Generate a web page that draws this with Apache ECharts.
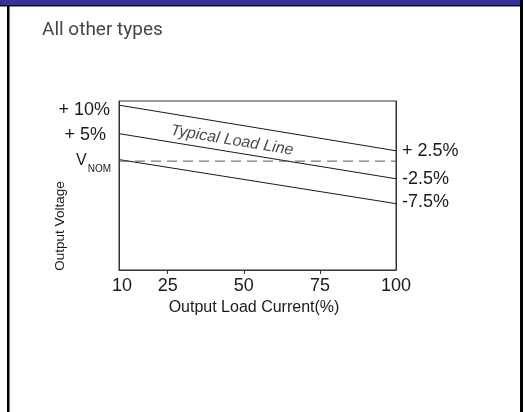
<!DOCTYPE html>
<html>
<head>
<meta charset="utf-8">
<script src="https://cdn.jsdelivr.net/npm/echarts@6/dist/echarts.min.js"></script>
<style>html,body{margin:0;padding:0;background:#fff;}#c{width:525px;height:412px;}</style>
</head>
<body>
<div id="c"></div>
<script>
// ---- data ----
const loadX = [9, 100];                 // output load current (%) at the line ends
const upperLine = [10.8, 2.0];          // line from +10% to +2.5%
const middleLine = [5.3, -3.4];         // line from +5% to -2.5%
const lowerLine = [0.3, -8.2];          // line from Vnom to -7.5%
const nominalLine = [0, 0];             // dashed Vnom reference
const xTickValues = [10, 25, 50, 75, 100];
const xTickMarks = [25, 50, 75];
const leftTickValues = [9.9, 5.0, -0.4];
const leftTickLabels = ['+ 10%', '+ 5%', 'VNOM'];
const rightTickValues = [1.95, -3.45, -7.9];
const rightTickLabels = ['+ 2.5%', '-2.5%', '-7.5%'];
const annotationPoint = [46.1, 4.0];
const annotationText = 'Typical Load Line';
const titleText = 'All other types';
const xName = 'Output Load Current(%)';
const yName = 'Output Voltage';

const FONT = "'Liberation Sans', Arial, sans-serif";
const chart = echarts.init(document.getElementById('c'), null, {renderer: 'canvas'});

function pairs(xs, ys) { return xs.map((x, i) => [x, ys[i]]); }

const lineStyleSolid = {color: '#1a1a1a', width: 1};

const option = {
  animation: false,
  backgroundColor: '#fff',
  title: {
    text: titleText, left: 42, top: 21, padding: 0,
    textStyle: {fontFamily: 'Roboto, sans-serif', fontSize: 19, fontWeight: 'normal', color: '#444'}
  },
  grid: {left: 119, top: 101, width: 277, height: 169, show: true, borderColor: '#333', borderWidth: 1, backgroundColor: 'transparent'},
  xAxis: {
    type: 'value', min: 9, max: 100,
    axisLine: {show: true, onZero: false, lineStyle: {color: '#333', width: 1}},
    splitLine: {show: false},
    axisTick: {show: true, inside: false, length: 4, lineStyle: {color: '#333'}, customValues: xTickMarks},
    axisLabel: {customValues: xTickValues, margin: 7, fontFamily: FONT, fontSize: 18, color: '#1a1a1a'},
    name: xName, nameLocation: 'middle', nameGap: 30,
    nameTextStyle: {fontFamily: FONT, fontSize: 16, color: '#1a1a1a', padding: [0, 7, 0, 0]}
  },
  yAxis: [{
    type: 'value', min: -21, max: 11.6, position: 'left',
    axisLine: {show: true, onZero: false, lineStyle: {color: '#333'}},
    axisTick: {show: false}, splitLine: {show: false},
    axisLabel: {
      customValues: leftTickValues, margin: 8, fontFamily: FONT, fontSize: 18, color: '#1a1a1a',
      formatter: function (v) {
        const i = leftTickValues.indexOf(v);
        const t = leftTickLabels[i];
        if (t === 'VNOM') return '{v|V}{s|NOM}';
        if (t === '+ 5%') return '{p|' + t + '}';
        return '{n|' + t + '}';
      },
      rich: {
        n: {fontFamily: FONT, fontSize: 18, color: '#1a1a1a', padding: [0, 1, 0, 0]},
        p: {fontFamily: FONT, fontSize: 18, color: '#1a1a1a', padding: [0, 5, 0, 0]},
        v: {fontFamily: FONT, fontSize: 16, color: '#1a1a1a', verticalAlign: 'top', lineHeight: 16},
        s: {fontFamily: FONT, fontSize: 10, color: '#1a1a1a', verticalAlign: 'bottom', lineHeight: 22, padding: [0, 0, 0, 1]}
      }
    }
  }, {
    type: 'value', min: -21, max: 11.6, position: 'right',
    axisLine: {show: true, onZero: false, lineStyle: {color: '#333'}},
    axisTick: {show: false}, splitLine: {show: false},
    axisLabel: {
      customValues: rightTickValues, margin: 6, fontFamily: FONT, fontSize: 18, color: '#1a1a1a',
      formatter: function (v) { return rightTickLabels[rightTickValues.indexOf(v)]; }
    }
  }],
  graphic: [
    {type: 'rect', shape: {x: 0, y: 0, width: 520, height: 5}, style: {fill: '#333399'}, silent: true},
    {type: 'rect', shape: {x: 0, y: 5, width: 523, height: 1.5}, style: {fill: '#111'}, silent: true},
    {type: 'rect', shape: {x: 7, y: 5, width: 2.5, height: 407}, style: {fill: '#000'}, silent: true},
    {type: 'rect', shape: {x: 520, y: 0, width: 3, height: 412}, style: {fill: '#000'}, silent: true},
    {type: 'text', x: 60, y: 226, rotation: Math.PI / 2, silent: true,
     style: {text: yName, font: '13.5px ' + FONT, fill: '#1a1a1a', align: 'center', verticalAlign: 'middle'}}
  ],
  series: [
    {type: 'line', data: pairs(loadX, upperLine), symbol: 'none', lineStyle: lineStyleSolid, silent: true},
    {type: 'line', data: pairs(loadX, middleLine), symbol: 'none', lineStyle: lineStyleSolid, silent: true},
    {type: 'line', data: pairs(loadX, lowerLine), symbol: 'none', lineStyle: lineStyleSolid, silent: true},
    {type: 'line', data: pairs(loadX, nominalLine), symbol: 'none', lineStyle: {color: '#555', width: 1, type: [10, 6]}, silent: true},
    {type: 'scatter', data: [annotationPoint], symbolSize: 0, silent: true,
     label: {show: true, position: 'inside', rotate: -9.4, formatter: annotationText,
             fontFamily: FONT, fontStyle: 'italic', fontSize: 16, color: '#1a1a1a'}}
  ]
};
chart.setOption(option);
</script>
</body>
</html>
